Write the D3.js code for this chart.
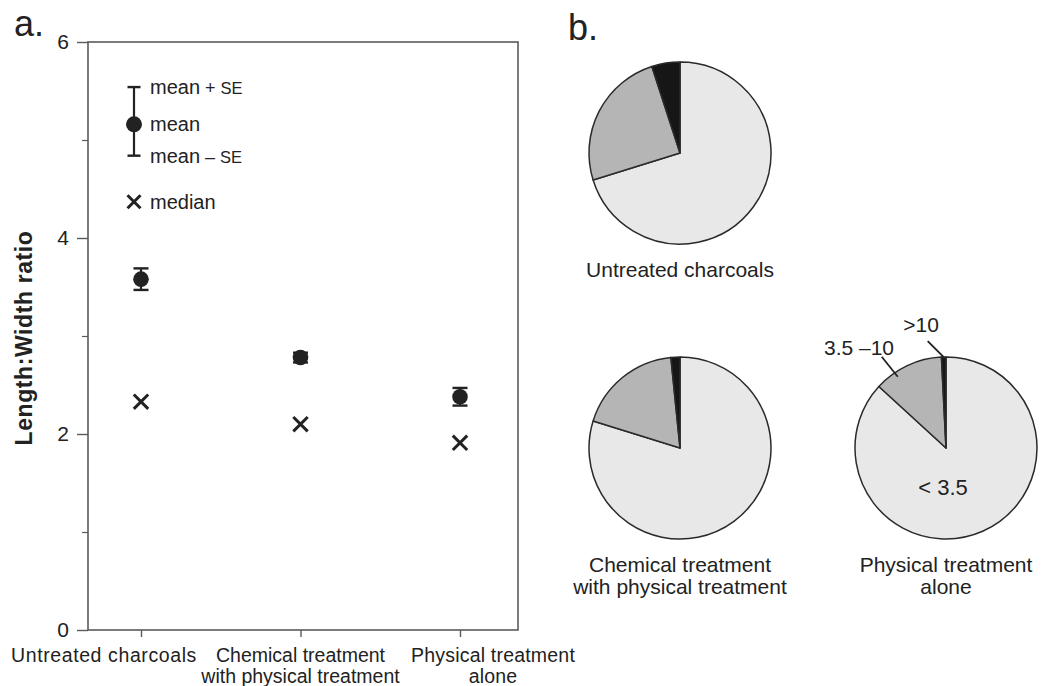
<!DOCTYPE html>
<html>
<head>
<meta charset="utf-8">
<script src="https://cdn.jsdelivr.net/npm/d3@7"></script>
<style>
  html, body { margin: 0; padding: 0; background: #fff; }
  svg { display: block; font-family: "Liberation Sans", Arial, Helvetica, sans-serif; }
</style>
</head>
<body>
<svg id="chart" width="1046" height="686"></svg>
<script>
// Panel a: length:width ratio by treatment
const categories = ["Untreated charcoals", "Chemical treatment with physical treatment", "Physical treatment alone"];
const categoryLines = [["Untreated charcoals"], ["Chemical treatment", "with physical treatment"], ["Physical treatment", "alone"]];
const meanValues = [3.58, 2.78, 2.38];
const seValues = [0.11, 0.05, 0.09];
const medianValues = [2.33, 2.10, 1.91];
const yTicks = [0, 2, 4, 6];
const yMinorTicks = [1, 3, 5];

// Panel b: share of charcoal in each length:width class
const classLabels = ["< 3.5", "3.5 \u201310", ">10"];
const shareUntreated = [70.2, 24.8, 5.0];
const shareChemical = [79.8, 18.6, 1.6];
const sharePhysical = [86.8, 12.4, 0.8];
const classColors = ["#e8e8e8", "#b5b5b5", "#161616"];

const svg = d3.select("#chart");
const ink = "#222";
const axisInk = "#5a5a5a";

// ---------- panel a ----------
const frame = { left: 88, right: 518, top: 42, bottom: 630 };
const y = d3.scaleLinear().domain([0, 6]).range([frame.bottom, frame.top]);
const x = d3.scalePoint().domain(categories).range([141, 460]);

svg.append("text").attr("x", 14).attr("y", 36)
  .attr("font-size", 36).attr("fill", ink).text("a.");

const gA = svg.append("g");

// frame
gA.append("rect")
  .attr("x", frame.left).attr("y", frame.top)
  .attr("width", frame.right - frame.left).attr("height", frame.bottom - frame.top)
  .attr("fill", "none").attr("stroke", axisInk).attr("stroke-width", 1.6);

// y axis
const yAxis = d3.axisLeft(y).tickValues(yTicks).tickSize(11).tickPadding(8).tickFormat(d3.format("d"));
const yAxisG = gA.append("g").attr("transform", `translate(${frame.left},0)`).call(yAxis);
yAxisG.select(".domain").remove();
yAxisG.selectAll("line").attr("stroke", axisInk).attr("stroke-width", 1.4);
yAxisG.selectAll("text").attr("font-size", 21).attr("fill", ink)
  .attr("font-family", "Liberation Sans, Arial, sans-serif");

const yMinor = d3.axisLeft(y).tickValues(yMinorTicks).tickSize(6).tickFormat("");
const yMinorG = gA.append("g").attr("transform", `translate(${frame.left},0)`).call(yMinor);
yMinorG.select(".domain").remove();
yMinorG.selectAll("line").attr("stroke", axisInk).attr("stroke-width", 1.2);

// x axis ticks
const xAxis = d3.axisBottom(x).tickSize(7).tickFormat("");
const xAxisG = gA.append("g").attr("transform", `translate(0,${frame.bottom})`).call(xAxis);
xAxisG.select(".domain").remove();
xAxisG.selectAll("line").attr("stroke", axisInk).attr("stroke-width", 1.4);

// x category labels, one text per line (outer labels nudged outward so they do not collide)
const labelShift = [-37, 0, 33];
categories.forEach((c, i) => {
  categoryLines[i].forEach((line, j) => {
    gA.append("text")
      .attr("x", x(c) + labelShift[i]).attr("y", frame.bottom + 32 + j * 20.5)
      .attr("text-anchor", "middle").attr("font-size", 19.5)
      .attr("letter-spacing", i === 0 ? 0.6 : (i === 2 ? 0.2 : 0))
      .attr("fill", ink).text(line);
  });
});

// y title
gA.append("text")
  .attr("transform", `translate(32,${(y(2) + y(4)) / 2 + 2}) rotate(-90)`)
  .attr("text-anchor", "middle").attr("font-size", 23).attr("font-weight", "bold")
  .attr("letter-spacing", 0.6)
  .attr("fill", ink).text("Length:Width ratio");

// markers
function errorBar(g, cx, lo, hi, cap) {
  g.append("line").attr("x1", cx).attr("x2", cx).attr("y1", y(lo)).attr("y2", y(hi))
    .attr("stroke", ink).attr("stroke-width", 2.2);
  [lo, hi].forEach(v => g.append("line")
    .attr("x1", cx - cap).attr("x2", cx + cap).attr("y1", y(v)).attr("y2", y(v))
    .attr("stroke", ink).attr("stroke-width", 2.4));
}
function cross(g, cx, cy, s) {
  g.append("path")
    .attr("d", `M${cx - s},${cy - s}L${cx + s},${cy + s}M${cx - s},${cy + s}L${cx + s},${cy - s}`)
    .attr("stroke", ink).attr("stroke-width", 3).attr("fill", "none");
}

const marks = gA.append("g");
categories.forEach((c, i) => {
  errorBar(marks, x(c), meanValues[i] - seValues[i], meanValues[i] + seValues[i], 7.5);
  marks.append("circle").attr("cx", x(c)).attr("cy", y(meanValues[i])).attr("r", 7.8).attr("fill", ink);
  cross(marks, x(c), y(medianValues[i]), 7.2);
});

// key
const keyX = 134;
const keyMean = 5.16, keyHi = 5.54, keyLo = 4.84, keyMedian = 4.37;
const key = gA.append("g");
errorBar(key, keyX, keyLo, keyHi, 6.5);
key.append("circle").attr("cx", keyX).attr("cy", y(keyMean)).attr("r", 8).attr("fill", ink);
cross(key, keyX, y(keyMedian), 6.5);
const keyText = [
  { v: keyHi, parts: [["mean", 20], [" + ", 18], ["SE", 16.5]] },
  { v: keyMean, parts: [["mean", 20]] },
  { v: keyLo, parts: [["mean", 20], [" \u2013 ", 18], ["SE", 16.5]] },
  { v: keyMedian, parts: [["median", 20]] }
];
keyText.forEach(k => {
  const t = key.append("text").attr("x", keyX + 16).attr("y", y(k.v) + 7).attr("fill", ink);
  k.parts.forEach(p => t.append("tspan").attr("font-size", p[1]).text(p[0]));
});

// ---------- panel b ----------
svg.append("text").attr("x", 568).attr("y", 40)
  .attr("font-size", 36).attr("fill", ink).text("b.");

const pieR = 91;
const pie = d3.pie().sort(null).value(d => d);
const arc = d3.arc().innerRadius(0).outerRadius(pieR);

const pies = [
  { data: shareUntreated, cx: 680, cy: 153, label: ["Untreated charcoals"] },
  { data: shareChemical, cx: 680, cy: 448, label: ["Chemical treatment", "with physical treatment"] },
  { data: sharePhysical, cx: 946, cy: 448, label: ["Physical treatment", "alone"] }
];

pies.forEach((p, pi) => {
  const g = svg.append("g").attr("transform", `translate(${p.cx},${p.cy})`);
  const arcs = pie(p.data);
  g.selectAll("path").data(arcs).join("path")
    .attr("d", arc)
    .attr("fill", (d, i) => classColors[i])
    .attr("stroke", "#2a2a2a").attr("stroke-width", 1.5).attr("stroke-linejoin", "round");
  p.label.forEach((line, j) => g.append("text")
    .attr("x", 0).attr("y", pieR + 33 + j * 22)
    .attr("text-anchor", "middle").attr("font-size", 21).attr("fill", ink).text(line));

  // class labels on the last pie
  if (pi === 2) {
    g.append("text").attr("x", -3).attr("y", 47).attr("text-anchor", "middle")
      .attr("font-size", 22).attr("fill", ink).text(classLabels[0]);

    // leader from a point on the rim of a slice, running up and to the left
    const leader = (angle, inset, dx, dy) => {
      const x0 = Math.sin(angle) * (pieR - inset), y0 = -Math.cos(angle) * (pieR - inset);
      g.append("line").attr("x1", x0).attr("y1", y0).attr("x2", x0 - dx).attr("y2", y0 - dy)
        .attr("stroke", ink).attr("stroke-width", 1.8);
    };
    const grayA = arcs[1].startAngle + (arcs[1].endAngle - arcs[1].startAngle) * 0.3;
    leader(grayA, 5, 16, 20);
    g.append("text").attr("x", -87).attr("y", -93).attr("text-anchor", "middle")
      .attr("font-size", 21).attr("fill", ink).text(classLabels[1]);
    const blackA = (arcs[2].startAngle + arcs[2].endAngle) / 2;
    leader(blackA, 0, 16, 16);
    g.append("text").attr("x", -25).attr("y", -116).attr("text-anchor", "middle")
      .attr("font-size", 21).attr("fill", ink).text(classLabels[2]);
  }
});
</script>
</body>
</html>
